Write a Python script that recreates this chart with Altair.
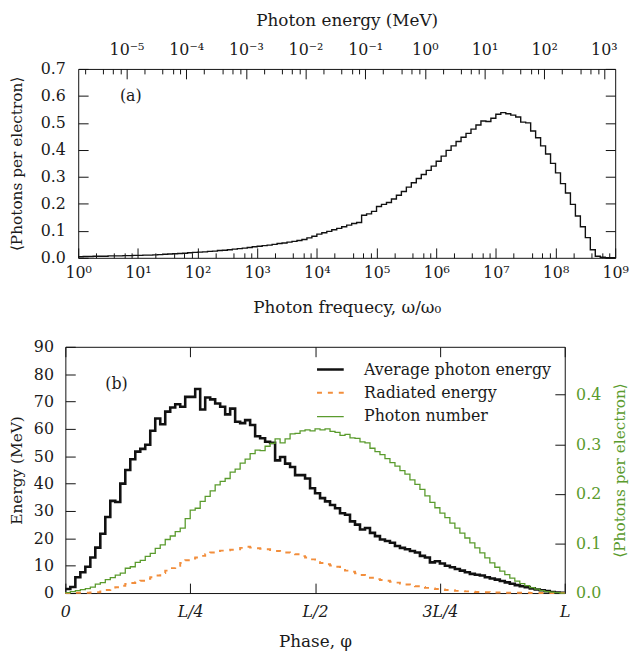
import json
import altair as alt
import pandas as pd

# ---------------- data ----------------
# panel (a): photons per electron in log-spaced frequency bins (12 bins per decade, 10^0 .. 10^9)
omega_bins_per_decade = 12
omega_counts = [
    0.004, 0.005, 0.005, 0.006, 0.006, 0.006, 0.007, 0.007, 0.007, 0.008, 0.008, 0.009,
    0.009, 0.010, 0.010, 0.011, 0.012, 0.013, 0.014, 0.015, 0.016, 0.017, 0.019, 0.020,
    0.021, 0.022, 0.024, 0.025, 0.027, 0.028, 0.030, 0.032, 0.034, 0.036, 0.038, 0.041,
    0.043, 0.045, 0.047, 0.050, 0.053, 0.055, 0.058, 0.061, 0.064, 0.068, 0.074, 0.080,
    0.088, 0.093, 0.098, 0.104, 0.109, 0.115, 0.121, 0.127, 0.131, 0.158, 0.163, 0.172,
    0.190, 0.198, 0.205, 0.218, 0.232, 0.246, 0.262, 0.278, 0.294, 0.309, 0.324, 0.340,
    0.358, 0.377, 0.398, 0.415, 0.431, 0.447, 0.461, 0.477, 0.492, 0.507, 0.505, 0.517,
    0.532, 0.538, 0.534, 0.529, 0.522, 0.503, 0.500, 0.470, 0.445, 0.415, 0.385, 0.350,
    0.315, 0.275, 0.240, 0.198, 0.155, 0.115, 0.075, 0.030, 0.006, 0.002, 0.0, 0.0,
]

# panel (b): 100 phase bins over one period L
avg_photon_energy = [
    1.5, 2.2, 5.8, 7.6, 9.6, 13.0, 16.6, 21.7, 27.8, 33.7,
    33.3, 40.0, 45.0, 48.9, 51.7, 52.7, 54.2, 59.3, 63.8, 61.7,
    66.3, 67.8, 69.0, 68.1, 71.7, 71.7, 74.6, 67.1, 71.5, 70.8,
    69.3, 68.1, 65.3, 67.4, 62.6, 62.1, 63.2, 61.4, 57.3, 56.6,
    55.3, 54.9, 48.5, 49.7, 47.3, 46.1, 43.1, 43.1, 41.9, 38.3,
    36.5, 34.7, 33.5, 32.2, 31.0, 29.2, 28.6, 26.2, 25.0, 23.2,
    23.8, 22.0, 20.8, 19.6, 19.0, 18.4, 17.2, 16.5, 16.0, 15.4,
    14.8, 13.6, 13.0, 11.2, 11.6, 10.8, 10.0, 9.4, 8.8, 8.2,
    7.6, 7.0, 6.7, 6.4, 5.8, 5.3, 4.9, 4.4, 3.9, 3.4,
    2.9, 2.5, 2.1, 1.7, 1.3, 1.0, 0.7, 0.4, 0.2, 0.1,
]
radiated_energy = [
    0.0, 0.0, 0.1, 0.1, 0.1, 0.2, 0.3, 0.6, 1.1, 1.5,
    2.1, 2.7, 3.3, 3.7, 4.0, 4.5, 5.2, 5.8, 6.4, 7.3,
    8.2, 9.1, 10.0, 11.0, 12.0, 12.6, 13.0, 13.6, 14.2, 14.8,
    15.4, 15.5, 15.6, 15.8, 16.0, 16.5, 16.9, 16.6, 16.4, 16.2,
    16.0, 15.7, 15.4, 15.0, 14.8, 14.5, 14.2, 13.5, 13.0, 12.3,
    11.8, 11.0, 10.5, 10.1, 9.6, 8.8, 8.2, 7.8, 7.2, 6.6,
    6.2, 5.6, 5.1, 4.8, 4.5, 4.1, 3.8, 3.5, 3.1, 2.8,
    2.5, 2.2, 1.9, 1.7, 1.5, 1.3, 1.1, 1.0, 0.8, 0.7,
    0.6, 0.5, 0.4, 0.3, 0.3, 0.2, 0.2, 0.2, 0.1, 0.1,
    0.1, 0.1, 0.1, 0.0, 0.0, 0.0, 0.0, 0.0, 0.0, 0.0,
]
photon_number = [
    0.001, 0.003, 0.005, 0.007, 0.009, 0.012, 0.018, 0.021, 0.027, 0.031,
    0.036, 0.040, 0.050, 0.053, 0.062, 0.066, 0.074, 0.080, 0.090, 0.097,
    0.108, 0.115, 0.124, 0.131, 0.150, 0.167, 0.171, 0.185, 0.195, 0.206,
    0.218, 0.225, 0.231, 0.244, 0.250, 0.262, 0.270, 0.281, 0.288, 0.287,
    0.296, 0.302, 0.311, 0.303, 0.311, 0.321, 0.322, 0.327, 0.329, 0.327,
    0.331, 0.329, 0.331, 0.326, 0.324, 0.318, 0.320, 0.313, 0.312, 0.305,
    0.303, 0.292, 0.285, 0.279, 0.271, 0.263, 0.256, 0.247, 0.240, 0.228,
    0.219, 0.209, 0.196, 0.183, 0.172, 0.161, 0.152, 0.141, 0.131, 0.121,
    0.111, 0.101, 0.091, 0.081, 0.071, 0.061, 0.052, 0.044, 0.037, 0.030,
    0.024, 0.019, 0.015, 0.011, 0.008, 0.005, 0.003, 0.002, 0.001, 0.0,
]
series_names = ["Average photon energy", "Radiated energy", "Photon number"]

# axis ticks / labels
omega_ticks = [1e0, 1e1, 1e2, 1e3, 1e4, 1e5, 1e6, 1e7, 1e8, 1e9]
omega_tick_labels = ["10⁰", "10¹", "10²", "10³", "10⁴", "10⁵", "10⁶", "10⁷", "10⁸", "10⁹"]
omega_minor_ticks = [m * 10.0 ** k for k in range(0, 9) for m in (2, 4, 6, 8)]
mev_per_omega0 = 1.55e-6  # photon energy (MeV) of one laser quantum
energy_domain = [mev_per_omega0 * 1e0, mev_per_omega0 * 1e9]
energy_ticks = [1e-5, 1e-4, 1e-3, 1e-2, 1e-1, 1e0, 1e1, 1e2, 1e3]
energy_tick_labels = ["10⁻⁵", "10⁻⁴", "10⁻³", "10⁻²", "10⁻¹", "10⁰", "10¹", "10²", "10³"]
energy_minor_ticks = [m * 10.0 ** k for k in range(-6, 3) for m in (2, 4, 6, 8)
                      if energy_domain[0] < m * 10.0 ** k < energy_domain[1]]
count_ticks = [0.0, 0.1, 0.2, 0.3, 0.4, 0.5, 0.6, 0.7]
phase_ticks = [0.0, 0.25, 0.5, 0.75, 1.0]
phase_tick_labels = ["0", "L/4", "L/2", "3L/4", "L"]
mev_ticks = [0, 10, 20, 30, 40, 50, 60, 70, 80, 90]
number_ticks = [0.0, 0.1, 0.2, 0.3, 0.4]

# ---------------- styling ----------------
FONT = "DejaVu Serif"
INK = "#1a1a1a"
BLACK = "#111111"
ORANGE = "#f28e3c"
GREEN = "#5a9b2d"

TOP_W, TOP_H, TOP_SHIFT = 556, 191, 13
BOT_W, BOT_H = 505, 249
GAP = 90
MAJ, MIN = 10, 5
VTITLE = 15.5

# ---------------- tables ----------------
n_om = len(omega_counts)
top_df = pd.DataFrame({
    "omega": [10 ** (i / omega_bins_per_decade) for i in range(n_om + 1)],
    "count": omega_counts + [omega_counts[-1]],
})

n_ph = len(avg_photon_energy)
edges = [i / n_ph for i in range(n_ph + 1)]
left_df = pd.concat([
    pd.DataFrame({"phase": edges, "v": avg_photon_energy + [avg_photon_energy[-1]], "series": series_names[0]}),
    pd.DataFrame({"phase": edges, "v": radiated_energy + [radiated_energy[-1]], "series": series_names[1]}),
])
right_df = pd.DataFrame({"phase": edges, "v": photon_number + [photon_number[-1]], "series": series_names[2]})

dummy = pd.DataFrame({"omega": [10.0], "E": [1e-3], "count": [0.0], "phase": [0.0], "mev": [0.0], "num": [0.0]})


def tick_axis(orient, values, size, extra=0):
    return alt.Axis(orient=orient, values=values, labels=False, domain=False, ticks=True,
                    tickSize=size, offset=-(size + extra), title=None, grid=False)


def domain_axis(orient):
    return alt.Axis(orient=orient, labels=False, ticks=False, domain=True, title=None, grid=False)


# ---------------- panel (a) ----------------
sx_om = alt.Scale(type="log", domain=[1, 1e9], range=[TOP_SHIFT, TOP_W], nice=False)
sx_en = alt.Scale(type="log", domain=energy_domain, range=[TOP_SHIFT, TOP_W], nice=False)
sy_ct = alt.Scale(domain=[0, 0.7], nice=False, zero=False)
mid_top = (TOP_SHIFT + TOP_W) / 2

om_expr = f"{json.dumps(omega_tick_labels, ensure_ascii=False)}[round(log(datum.value)/LN10)]"
en_expr = f"{json.dumps(energy_tick_labels, ensure_ascii=False)}[round(log(datum.value)/LN10)+5]"

a_line = alt.Chart(top_df).mark_line(interpolate="step-after", color=BLACK, strokeWidth=1.4).encode(
    x=alt.X("omega:Q", scale=sx_om, axis=alt.Axis(
        orient="bottom", values=omega_ticks, labelExpr=om_expr, ticks=False, domain=True,
        labelPadding=7, title="Photon frequecy, ω/ω₀", titleX=mid_top, titleY=50,
        titleBaseline="middle", titleAlign="center")),
    y=alt.Y("count:Q", scale=sy_ct, axis=alt.Axis(
        orient="left", values=count_ticks, format=".1f", ticks=False, domain=True, offset=-TOP_SHIFT,
        labelPadding=13, title="⟨Photons per electron⟩", titleX=-62, titleY=TOP_H / 2,
        titleFontSize=VTITLE, titleBaseline="middle", titleAngle=270)),
)
a_t1 = alt.Chart(dummy).mark_point(opacity=0, size=1).encode(
    x=alt.X("omega:Q", scale=sx_om, axis=tick_axis("bottom", omega_ticks, MAJ)),
    y=alt.Y("count:Q", scale=sy_ct, axis=tick_axis("left", count_ticks, MAJ, TOP_SHIFT)),
)
a_t2 = alt.Chart(dummy).mark_point(opacity=0, size=1).encode(
    x=alt.X("omega:Q", scale=sx_om, axis=tick_axis("bottom", omega_minor_ticks, MIN)),
    y=alt.Y("count:Q", scale=sy_ct, axis=domain_axis("right")),
)
a_t3 = alt.Chart(dummy).mark_point(opacity=0, size=1).encode(
    x=alt.X("E:Q", scale=sx_en, axis=alt.Axis(
        orient="top", values=energy_ticks, labelExpr=en_expr, ticks=False, domain=True,
        labelPadding=12, title="Photon energy (MeV)", titleX=mid_top, titleY=-49,
        titleBaseline="middle", titleAlign="center")),
    y=alt.Y("count:Q", scale=sy_ct, axis=tick_axis("right", count_ticks, MAJ)),
)
a_t4 = alt.Chart(dummy).mark_point(opacity=0, size=1).encode(
    x=alt.X("E:Q", scale=sx_en, axis=tick_axis("top", energy_ticks, MAJ)),
    y=alt.Y("count:Q", scale=sy_ct, axis=None),
)
a_t5 = alt.Chart(dummy).mark_point(opacity=0, size=1).encode(
    x=alt.X("E:Q", scale=sx_en, axis=tick_axis("top", energy_minor_ticks, MIN)),
    y=alt.Y("count:Q", scale=sy_ct, axis=None),
)
a_lab = alt.Chart(pd.DataFrame({"omega": [5.0], "count": [0.6], "t": ["(a)"]})).mark_text(
    align="left", baseline="middle", font=FONT, fontSize=16, color=INK).encode(
    x=alt.X("omega:Q", scale=sx_om, axis=None),
    y=alt.Y("count:Q", scale=sy_ct, axis=None),
    text="t:N",
)
top = alt.layer(a_line, a_t1, a_t2, a_t3, a_t4, a_t5, a_lab).resolve_scale(
    x="independent", y="independent").properties(width=TOP_W, height=TOP_H)

# ---------------- panel (b) ----------------
sx_ph = alt.Scale(domain=[0, 1], nice=False, zero=False)
sy_mev = alt.Scale(domain=[0, 90], nice=False)
sy_num = alt.Scale(domain=[0, 0.4965], nice=False)
ph_expr = f"{json.dumps(phase_tick_labels)}[round(datum.value*4)]"

# legend sits inside panel (b); its position is given in the concat's frame
color = alt.Color("series:N", scale=alt.Scale(domain=series_names, range=[BLACK, ORANGE, GREEN]),
                  legend=alt.Legend(title=None, orient="none", legendX=253, legendY=TOP_H + GAP + 8,
                                    symbolType="stroke", symbolSize=729, labelOffset=19,
                                    rowPadding=1, labelFont=FONT, labelFontSize=16, labelLimit=400,
                                    labelColor=INK, padding=0))
dash = alt.StrokeDash("series:N", scale=alt.Scale(domain=series_names, range=[[1, 0], [5, 6], [1, 0]]))
width = alt.StrokeWidth("series:N", scale=alt.Scale(domain=series_names, range=[2.6, 1.3, 1.1]))

b_left = alt.Chart(left_df).mark_line(interpolate="step-after").encode(
    x=alt.X("phase:Q", scale=sx_ph, axis=alt.Axis(
        orient="bottom", values=phase_ticks, labelExpr=ph_expr, ticks=False, domain=True,
        labelPadding=11, labelFontStyle="italic", title="Phase, φ", titleX=BOT_W / 2, titleY=49,
        titleBaseline="middle", titleAlign="center")),
    y=alt.Y("v:Q", scale=sy_mev, axis=alt.Axis(
        orient="left", values=mev_ticks, ticks=False, domain=True, labelPadding=12,
        title="Energy (MeV)", titleX=-49, titleY=BOT_H / 2, titleFontSize=VTITLE,
        titleBaseline="middle", titleAngle=270)),
    color=color, strokeDash=dash, strokeWidth=width, detail="series:N",
)
b_right = alt.Chart(right_df).mark_line(interpolate="step-after").encode(
    x=alt.X("phase:Q", scale=sx_ph, axis=None),
    y=alt.Y("v:Q", scale=sy_num, axis=alt.Axis(
        orient="right", values=number_ticks, format=".1f", ticks=False, domain=True,
        labelPadding=11, labelColor=GREEN, title="⟨Photons per electron⟩", titleColor=GREEN,
        titleX=55, titleY=BOT_H / 2, titleFontSize=VTITLE, titleBaseline="middle", titleAngle=270)),
    color=color, strokeDash=dash, strokeWidth=width,
)
b_t1 = alt.Chart(dummy).mark_point(opacity=0, size=1).encode(
    x=alt.X("phase:Q", scale=sx_ph, axis=tick_axis("bottom", phase_ticks, MAJ)),
    y=alt.Y("mev:Q", scale=sy_mev, axis=tick_axis("left", mev_ticks, MAJ)),
)
b_t2 = alt.Chart(dummy).mark_point(opacity=0, size=1).encode(
    x=alt.X("phase:Q", scale=sx_ph, axis=domain_axis("top")),
    y=alt.Y("num:Q", scale=sy_num, axis=tick_axis("right", number_ticks, MAJ)),
)
b_t3 = alt.Chart(dummy).mark_point(opacity=0, size=1).encode(
    x=alt.X("phase:Q", scale=sx_ph, axis=tick_axis("top", phase_ticks, MAJ)),
    y=alt.Y("mev:Q", scale=sy_mev, axis=None),
)
b_lab = alt.Chart(pd.DataFrame({"phase": [0.08], "mev": [76.5], "t": ["(b)"]})).mark_text(
    align="left", baseline="middle", font=FONT, fontSize=16, color=INK).encode(
    x=alt.X("phase:Q", scale=sx_ph, axis=None),
    y=alt.Y("mev:Q", scale=sy_mev, axis=None),
    text="t:N",
)
bottom = alt.layer(b_left, b_right, b_t1, b_t2, b_t3, b_lab).resolve_scale(
    x="independent", y="independent").properties(width=BOT_W, height=BOT_H)

chart = alt.vconcat(top, bottom, spacing=GAP, bounds="flush").properties(
    padding={"left": 2, "top": 0, "right": 2, "bottom": 0}
).configure_view(stroke=None).configure_axis(
    labelFont=FONT, labelFontSize=16, labelColor=INK, titleFont=FONT, titleFontSize=17,
    titleFontWeight="normal", titleColor=INK, domainColor=BLACK, domainWidth=1,
    tickColor=BLACK, tickWidth=1, grid=False, labelFlush=False, labelOverlap=False,
)

chart.save("out.html", embed_options={"renderer": "svg", "actions": False})
